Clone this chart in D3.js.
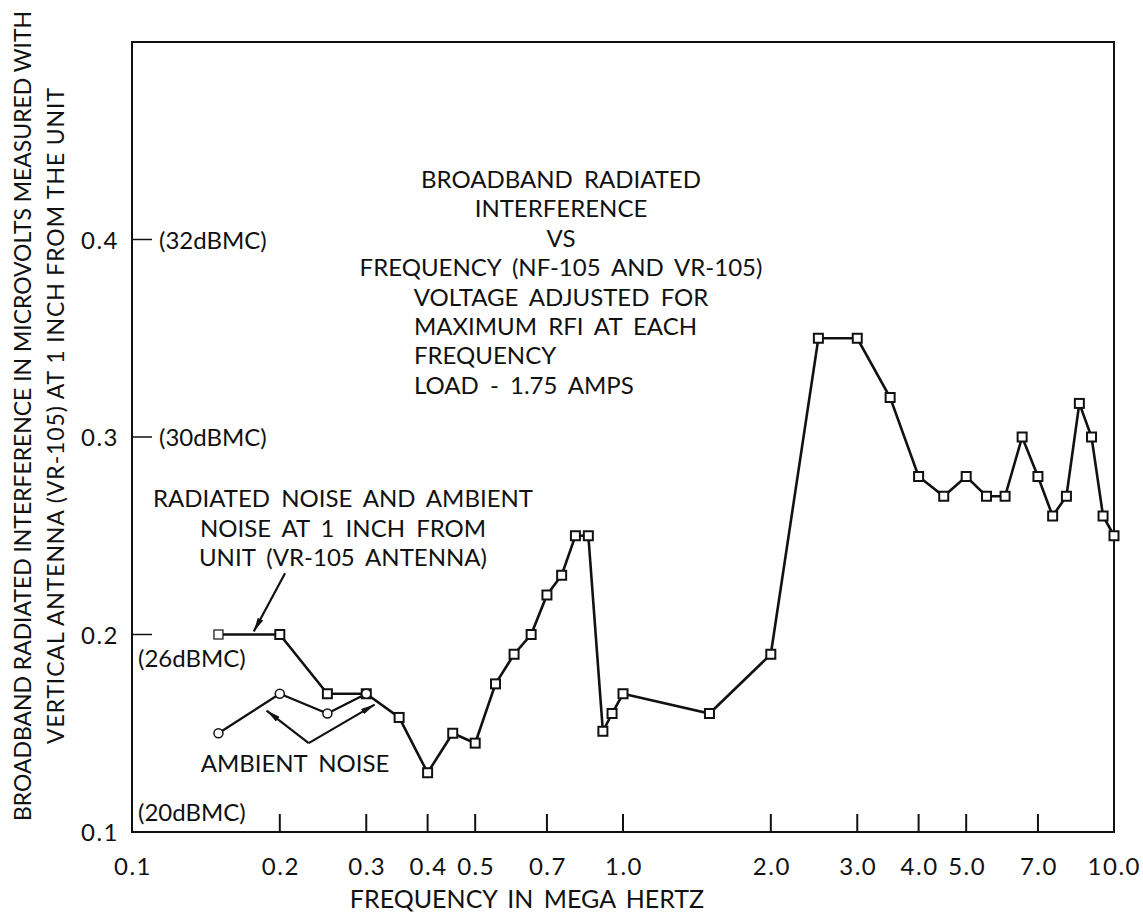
<!DOCTYPE html>
<html>
<head>
<meta charset="utf-8">
<script src="https://cdn.jsdelivr.net/npm/d3@7"></script>
<style>
  body { margin: 0; background: #fff; }
  svg text { font-family: "Lato", "DejaVu Sans", sans-serif; fill: #111; }
</style>
</head>
<body>
<div class="chart"></div>
<script>
// main series: radiated noise (squares)
var freqMain = [0.15, 0.2, 0.25, 0.3, 0.35, 0.4, 0.45, 0.5, 0.55, 0.6, 0.65, 0.7, 0.75, 0.8, 0.85,
                0.91, 0.95, 1.0, 1.5, 2.0, 2.5, 3.0, 3.5, 4.0, 4.5, 5.0, 5.5, 6.0, 6.5, 7.0,
                7.5, 8.0, 8.5, 9.0, 9.5, 10.0];
var rfiMain = [0.2, 0.2, 0.17, 0.17, 0.158, 0.13, 0.15, 0.145, 0.175, 0.19, 0.2, 0.22, 0.23, 0.25, 0.25,
               0.151, 0.16, 0.17, 0.16, 0.19, 0.35, 0.35, 0.32, 0.28, 0.27, 0.28, 0.27, 0.27, 0.3, 0.28,
               0.26, 0.27, 0.317, 0.3, 0.26, 0.25];
// ambient noise (circles)
var freqAmbient = [0.15, 0.2, 0.25, 0.3];
var rfiAmbient = [0.15, 0.17, 0.16, 0.17];

var xTickVals = [0.2, 0.3, 0.4, 0.5, 0.7, 1, 2, 3, 4, 5, 7];
var xLabelVals = [0.1, 0.2, 0.3, 0.4, 0.5, 0.7, 1, 2, 3, 4, 5, 7, 10];
var yLabelVals = [0.1, 0.2, 0.3, 0.4];
var dbmcVals = [0.4, 0.3];
var dbmcText = ["(32dBMC)", "(30dBMC)"];

var titleLines = ["BROADBAND RADIATED", "INTERFERENCE", "VS", "FREQUENCY (NF-105 AND VR-105)", "VOLTAGE ADJUSTED FOR"];
var titleLines2 = ["MAXIMUM RFI AT EACH", "FREQUENCY", "LOAD - 1.75 AMPS"];
var noteLines = ["RADIATED NOISE AND AMBIENT", "NOISE AT 1 INCH FROM", "UNIT (VR-105 ANTENNA)"];

var w = 1143, h = 914;
var svg = d3.select('.chart').append('svg')
            .attr('width', w).attr('height', h);

var x_scale = d3.scaleLog().domain([0.1, 10]).range([132, 1114]);
var y_scale = d3.scaleLinear().domain([0.1, 0.5]).range([832, 42]);

svg.append('defs').append('marker')
    .attr('id', 'arrow')
    .attr('viewBox', '0 0 14 6')
    .attr('refX', 14).attr('refY', 3)
    .attr('markerWidth', 14).attr('markerHeight', 6)
    .attr('markerUnits', 'userSpaceOnUse')
    .attr('orient', 'auto')
    .append('path').attr('d', 'M0,0 L14,3 L0,6 Z').attr('fill', '#111');

//frame
svg.append('rect')
    .attr('x', x_scale(0.1)).attr('y', y_scale(0.5))
    .attr('width', x_scale(10) - x_scale(0.1))
    .attr('height', y_scale(0.1) - y_scale(0.5))
    .attr('fill', 'none').attr('stroke', '#111').attr('stroke-width', 2);

//x ticks pointing up from the bottom
svg.selectAll('.xtick').data(xTickVals).enter().append('line')
    .attr('x1', d => x_scale(d)).attr('x2', d => x_scale(d))
    .attr('y1', y_scale(0.1)).attr('y2', y_scale(0.1) - 18)
    .attr('stroke', '#111').attr('stroke-width', 2);
svg.selectAll('.xlab').data(xLabelVals).enter().append('text')
    .attr('x', d => d == 10 ? 1141 : x_scale(d) + 1)
    .attr('y', 875)
    .style('font-size', '24px').style('letter-spacing', '1.5px')
    .style('text-anchor', d => d == 10 ? 'end' : 'middle')
    .text(d => d3.format('.1f')(d));
svg.append('text')
    .attr('x', 527).attr('y', 908)
    .style('font-size', '25px').style('word-spacing', '4px')
    .style('text-anchor', 'middle')
    .text('FREQUENCY IN MEGA HERTZ');

//y labels
svg.selectAll('.ylab').data(yLabelVals).enter().append('text')
    .attr('x', 119)
    .attr('y', d => y_scale(d) + 9)
    .style('font-size', '24px').style('letter-spacing', '1.5px')
    .style('text-anchor', 'end')
    .text(d => d3.format('.1f')(d));
//y ticks with dBMC
svg.selectAll('.ytick').data([0.4, 0.3, 0.2]).enter().append('line')
    .attr('x1', x_scale(0.1)).attr('x2', x_scale(0.1) + 20)
    .attr('y1', d => y_scale(d)).attr('y2', d => y_scale(d))
    .attr('stroke', '#111').attr('stroke-width', 1.5);
svg.selectAll('.dbmc').data(dbmcVals).enter().append('text')
    .attr('x', 159).attr('y', d => y_scale(d) + 9)
    .style('font-size', '24px')
    .text((d, i) => dbmcText[i]);
svg.append('text').attr('x', 138).attr('y', y_scale(0.2) + 32)
    .style('font-size', '24px').text('(26dBMC)');
svg.append('text').attr('x', 138).attr('y', y_scale(0.1) - 11)
    .style('font-size', '24px').text('(20dBMC)');

//y axis title
svg.append('text')
    .attr('transform', 'translate(31,' + 416 + ') rotate(-90)')
    .style('font-size', '23px')
    .style('text-anchor', 'middle')
    .attr('textLength', 810).attr('lengthAdjust', 'spacing')
    .text('BROADBAND RADIATED INTERFERENCE IN MICROVOLTS MEASURED WITH');
svg.append('text')
    .attr('transform', 'translate(64,' + 416 + ') rotate(-90)')
    .style('font-size', '23px')
    .style('text-anchor', 'middle')
    .attr('textLength', 656).attr('lengthAdjust', 'spacing')
    .text('VERTICAL ANTENNA (VR-105) AT 1 INCH FROM THE UNIT');

//title block
svg.selectAll('.title1').data(titleLines).enter().append('text')
    .attr('x', 561).attr('y', (d, i) => 188 + i * 29.4)
    .style('font-size', '24px').style('word-spacing', '5px')
    .style('text-anchor', 'middle')
    .text(d => d);
svg.selectAll('.title2').data(titleLines2).enter().append('text')
    .attr('x', 414).attr('y', (d, i) => 335 + i * 29.4)
    .style('font-size', '24px').style('word-spacing', '5px')
    .text(d => d);

//note text
svg.selectAll('.note').data(noteLines).enter().append('text')
    .attr('x', 343).attr('y', (d, i) => 507 + i * 29.5)
    .style('font-size', '24px').style('word-spacing', '5px')
    .style('text-anchor', 'middle')
    .text(d => d);
svg.append('text').attr('x', 295).attr('y', 772)
    .style('font-size', '24px').style('word-spacing', '5px')
    .style('text-anchor', 'middle')
    .text('AMBIENT NOISE');

//arrows
function arrow(f0, v0, f1, v1) {
    svg.append('line')
        .attr('x1', x_scale(f0)).attr('y1', y_scale(v0))
        .attr('x2', x_scale(f1)).attr('y2', y_scale(v1))
        .attr('stroke', '#111').attr('stroke-width', 2.2)
        .attr('marker-end', 'url(#arrow)');
}
arrow(0.205, 0.231, 0.177, 0.2015);
arrow(0.229, 0.145, 0.188, 0.1615);
arrow(0.229, 0.145, 0.312, 0.1645);

//lines
var line = d3.line().x(d => x_scale(d[0])).y(d => y_scale(d[1]));
var mainPts = freqMain.map((f, i) => [f, rfiMain[i]]);
var ambPts = freqAmbient.map((f, i) => [f, rfiAmbient[i]]);
svg.append('path').attr('d', line(ambPts))
    .attr('fill', 'none').attr('stroke', '#111').attr('stroke-width', 2.2);
svg.append('path').attr('d', line(mainPts))
    .attr('fill', 'none').attr('stroke', '#111').attr('stroke-width', 2.6);

var sq = 9;
svg.selectAll('.sq').data(mainPts).enter().append('rect')
    .attr('x', d => x_scale(d[0]) - sq / 2)
    .attr('y', d => y_scale(d[1]) - sq / 2)
    .attr('width', sq).attr('height', sq)
    .attr('fill', '#fff').attr('stroke', '#111')
    .attr('stroke-width', (d, i) => i == 0 ? 1.2 : 2);
svg.selectAll('.circ').data(ambPts).enter().append('circle')
    .attr('cx', d => x_scale(d[0]))
    .attr('cy', d => y_scale(d[1]))
    .attr('r', 4.5)
    .attr('fill', '#fff').attr('stroke', '#111').attr('stroke-width', 1.5);
</script>
</body>
</html>
